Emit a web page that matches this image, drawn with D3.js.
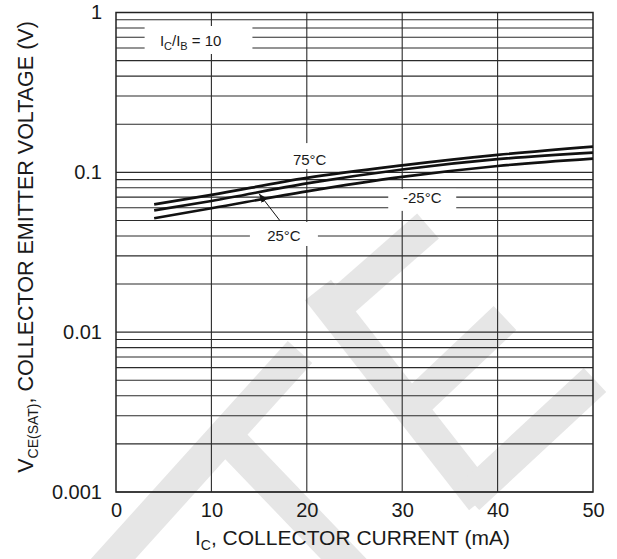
<!DOCTYPE html>
<html lang="en">
<head>
  <meta charset="UTF-8">
  <title>VCE(SAT) vs IC</title>
  <script src="https://cdn.jsdelivr.net/npm/d3@7/dist/d3.min.js"></script>
  <style>
    body { margin: 0; background: #fff; }
    text { font-family: "Liberation Sans", Arial, sans-serif; fill: #1a1a1a; }
  </style>
</head>
<body>
  <script>
    // collector current (mA) where the curves were read
    var currentMA = [4, 10, 20, 30, 40, 50];
    // VCE(sat) in volts, one list per temperature
    var vce75 = [0.063, 0.0722, 0.0923, 0.1105, 0.1285, 0.1448];
    var vce25 = [0.0578, 0.0662, 0.0852, 0.1042, 0.1208, 0.1328];
    var vceM25 = [0.0516, 0.0596, 0.076, 0.0936, 0.1096, 0.1218];
    var seriesNames = ["75°C", "25°C", "-25°C"];

    var xTicks = [0, 10, 20, 30, 40, 50];
    var yTicks = [0.001, 0.01, 0.1, 1];
    var yTickLabels = ["0.001", "0.01", "0.1", "1"];

    var width = 617, height = 559;
    var svg = d3.select("body").append("svg").attr("width", width).attr("height", height);

    let x = d3.scaleLinear().domain([0, 50]).range([116, 593]);
    let y = d3.scaleLog().domain([0.001, 1]).range([492, 12.5]);

    /* WATERMARK (light grey letters behind the chart) */
    var wm = svg.append("g").attr("fill", "none").attr("stroke", "#e6e6e6")
      .attr("stroke-width", 33).attr("stroke-linecap", "butt");
    [
      [[85, 590], [300, 352]],
      [[222, 432], [362, 578]],
      [[318, 290], [482, 500]],
      [[330, 312], [428, 226]],
      [[408, 410], [505, 318]],
      [[468, 498], [595, 380]]
    ].forEach(seg => wm.append("path").attr("d", d3.line()(seg)));

    /* GRID */
    var grid = svg.append("g").attr("stroke", "#2b2b2b").attr("stroke-width", 1.1);
    grid.selectAll("line.h")
      .data(y.ticks())
      .enter().append("line")
      .attr("x1", x(0)).attr("x2", x(50))
      .attr("y1", d => y(d)).attr("y2", d => y(d));
    grid.selectAll("line.v")
      .data(xTicks.slice(1, -1))
      .enter().append("line")
      .attr("y1", y(1)).attr("y2", y(0.001))
      .attr("x1", d => x(d)).attr("x2", d => x(d));
    svg.append("rect")
      .attr("x", x(0)).attr("y", y(1))
      .attr("width", x(50) - x(0)).attr("height", y(0.001) - y(1))
      .attr("fill", "none").attr("stroke", "#222").attr("stroke-width", 1.5);

    /* LABEL BOXES (white gaps in the grid) */
    // [IC, V] anchor of each label (text baseline), plus box size around it
    var labels = [
      {text: "75°C", at: [20.3, 0.111], w: 22, up: 22, down: 4},
      {text: "25°C", at: [17.6, 0.0372], w: 34, up: 19, down: 5},
      {text: "-25°C", at: [32.1, 0.0644], w: 34, up: 14, down: 8}
    ];
    labels.forEach(l => {
      svg.append("rect")
        .attr("x", x(l.at[0]) - l.w).attr("y", y(l.at[1]) - l.up)
        .attr("width", 2 * l.w).attr("height", l.up + l.down)
        .attr("fill", "#fff");
      svg.append("text")
        .attr("x", x(l.at[0])).attr("y", y(l.at[1]))
        .attr("text-anchor", "middle").attr("font-size", 15)
        .text(l.text);
    });

    // IC/IB = 10 note
    svg.append("rect")
      .attr("x", x(3)).attr("y", 26).attr("width", x(14.3) - x(3)).attr("height", 28)
      .attr("fill", "#fff");
    var note = svg.append("text").attr("x", x(4.6)).attr("y", 46).attr("font-size", 15);
    note.append("tspan").text("I");
    note.append("tspan").attr("font-size", 11).attr("dy", 4).text("C");
    note.append("tspan").attr("dy", -4).text("/I");
    note.append("tspan").attr("font-size", 11).attr("dy", 4).text("B");
    note.append("tspan").attr("dy", -4).text(" = 10");

    /* CURVES */
    let line = d3.line()
      .x(d => x(d[0]))
      .y(d => y(d[1]))
      .curve(d3.curveMonotoneX);

    [vce75, vce25, vceM25].forEach((vals, i) => {
      svg.append("path")
        .attr("class", "curve")
        .attr("d", line(currentMA.map((c, j) => [c, vals[j]])))
        .attr("fill", "none")
        .attr("stroke", "#111")
        .attr("stroke-width", 2.7)
        .attr("data-name", seriesNames[i]);
    });

    // arrow from 25°C label to its curve
    svg.append("defs").append("marker")
      .attr("id", "head").attr("viewBox", "0 0 10 10")
      .attr("refX", 10).attr("refY", 5)
      .attr("markerWidth", 9).attr("markerHeight", 9)
      .attr("orient", "auto")
      .append("path").attr("d", "M0,1 L10,5 L0,9 Z").attr("fill", "#111");
    svg.append("line")
      .attr("x1", x(17.2)).attr("y1", y(0.0497))
      .attr("x2", x(15)).attr("y2", y(0.0735))
      .attr("stroke", "#111").attr("stroke-width", 1)
      .attr("marker-end", "url(#head)");

    /* AXES */
    let axisX = d3.axisBottom(x).tickValues(xTicks).tickSize(0).tickPadding(11);
    var gx = svg.append("g").attr("transform", "translate(0," + y(0.001) + ")").call(axisX);
    gx.select(".domain").remove();
    gx.selectAll("text").attr("font-size", 20).attr("font-family", null).attr("fill", "#1a1a1a");

    let axisY = d3.axisLeft(y).tickValues(yTicks)
      .tickFormat((d, i) => yTickLabels[i]).tickSize(0).tickPadding(14);
    var gy = svg.append("g").attr("transform", "translate(" + x(0) + ",0)").call(axisY);
    gy.select(".domain").remove();
    gy.selectAll("text").attr("font-size", 20).attr("font-family", null).attr("fill", "#1a1a1a");

    // x axis title
    var xt = svg.append("text")
      .attr("x", (x(0) + x(50)) / 2 - 2).attr("y", 545)
      .attr("text-anchor", "middle").attr("font-size", 21);
    xt.append("tspan").text("I");
    xt.append("tspan").attr("font-size", 14).attr("dy", 5).text("C");
    xt.append("tspan").attr("dy", -5).text(", COLLECTOR CURRENT (mA)");

    // y axis title
    var yt = svg.append("text")
      .attr("transform", "translate(33,247) rotate(-90)")
      .attr("text-anchor", "middle").attr("font-size", 21.5);
    yt.append("tspan").text("V");
    yt.append("tspan").attr("font-size", 14).attr("dy", 5).text("CE(SAT)");
    yt.append("tspan").attr("dy", -5).text(",  COLLECTOR EMITTER VOLTAGE (V)");
  </script>
</body>
</html>
